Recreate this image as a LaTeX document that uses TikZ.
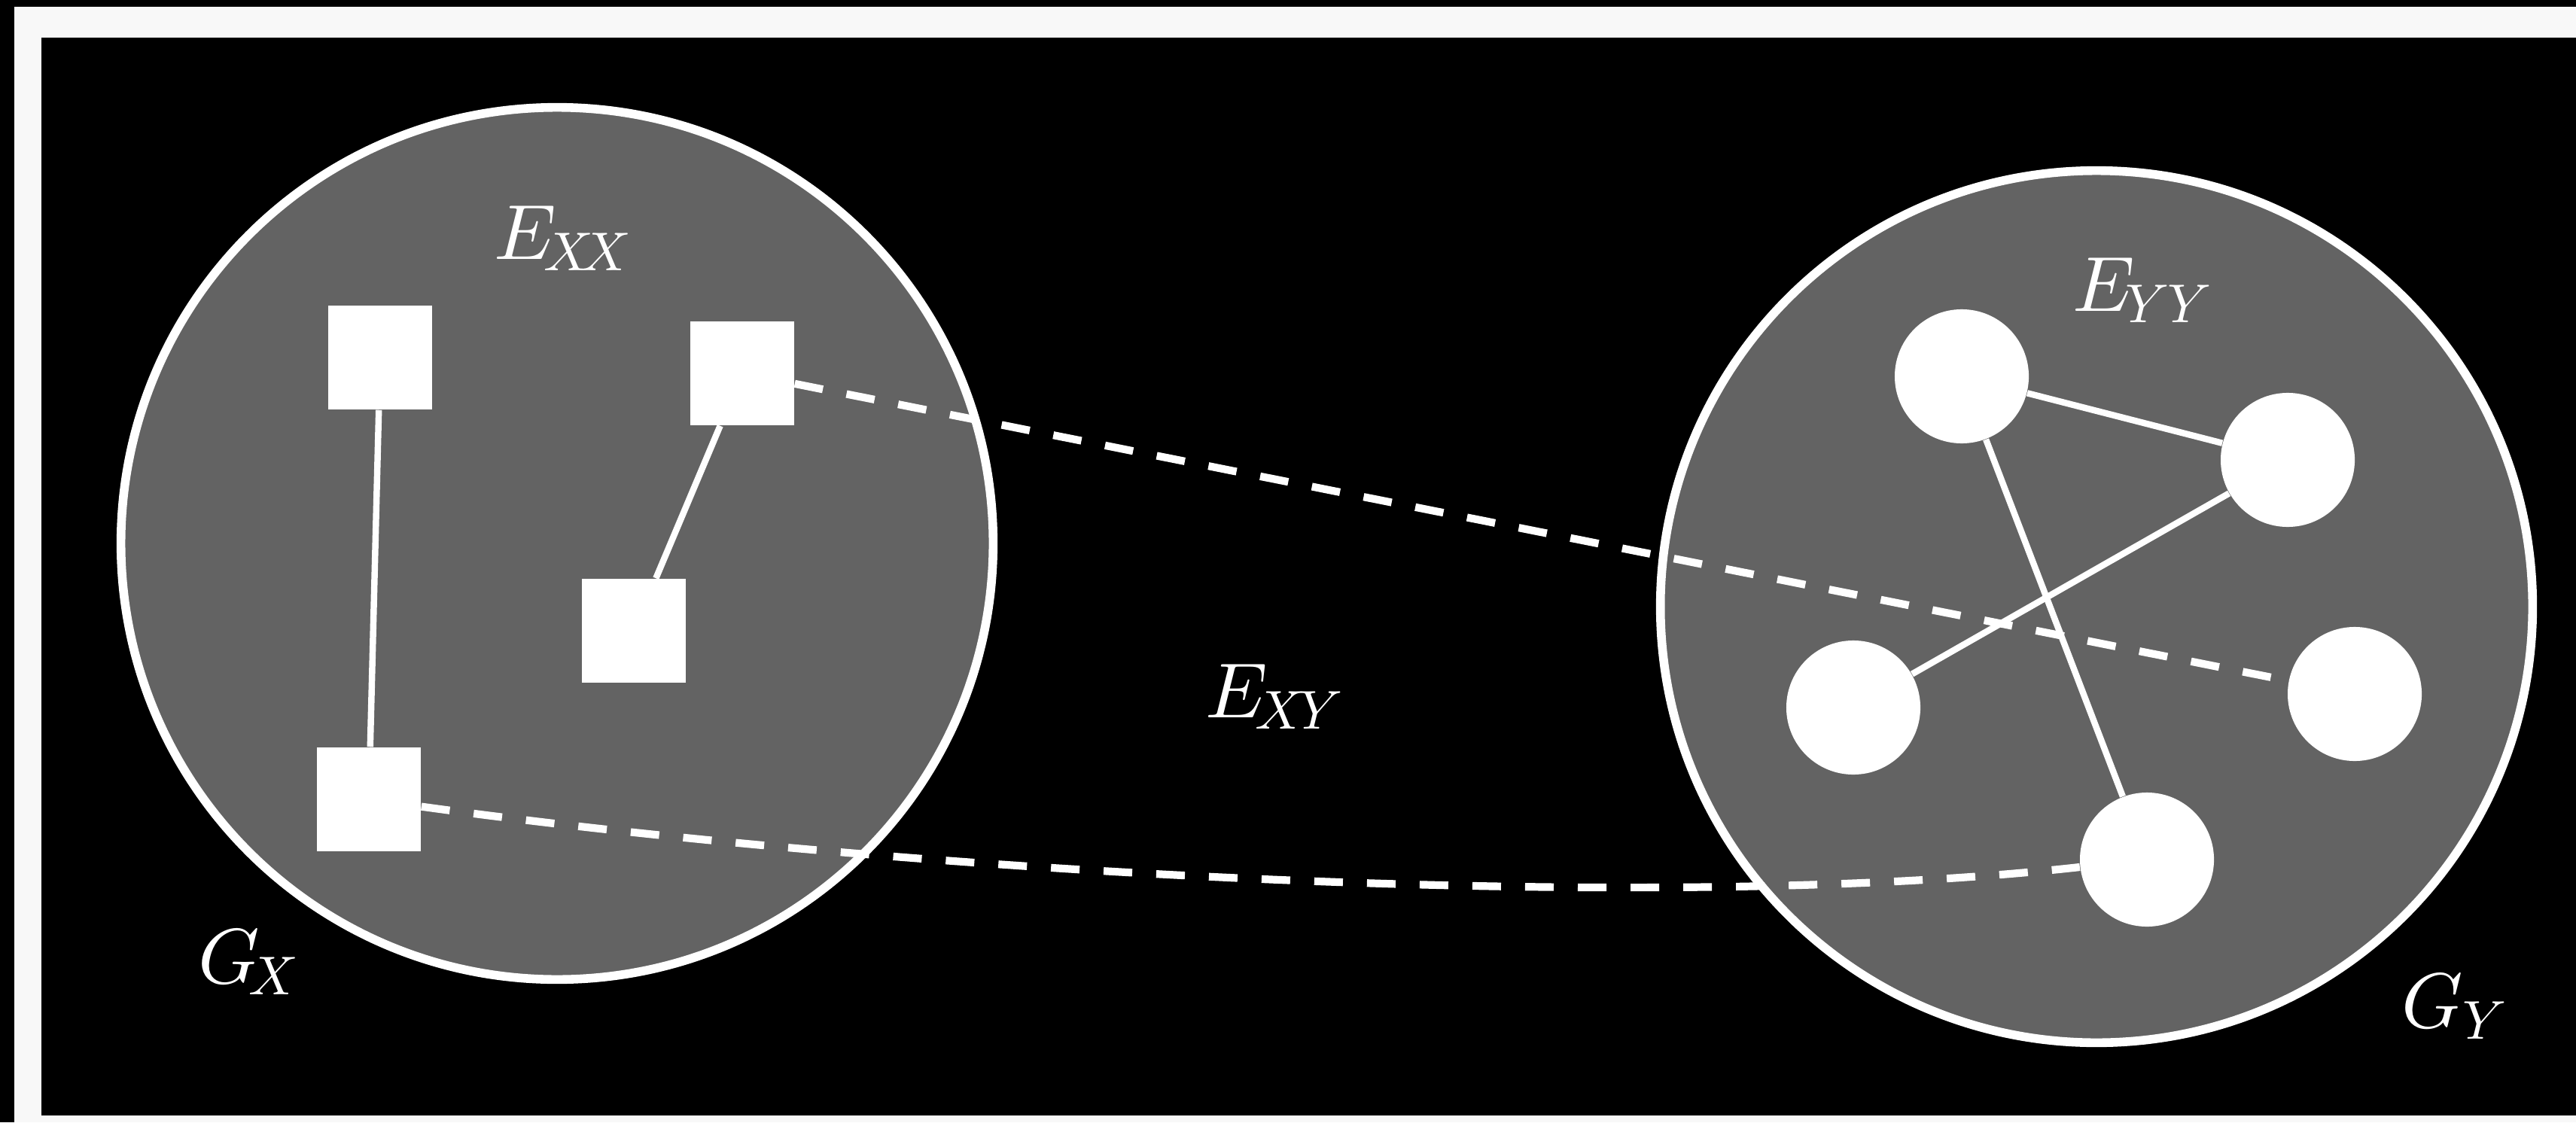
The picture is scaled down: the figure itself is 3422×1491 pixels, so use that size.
\documentclass[tikz,border=0pt]{standalone}
\definecolor{gcirc}{RGB}{99,99,99}
\definecolor{framew}{RGB}{248,248,248}
\newcommand{\sbx}[1]{\scalebox{0.7}{$#1$}}
\begin{document}
\begin{tikzpicture}[x=0.01cm,y=-0.01cm,
  graphdisk/.style={circle, draw=white, fill=gcirc, line width=3.3pt, minimum size=11.58cm, inner sep=0pt},
  sq/.style={rectangle, fill=white, minimum size=1.38cm, inner sep=0pt},
  dot/.style={circle, fill=white, minimum size=1.78cm, inner sep=0pt},
  edgeline/.style={white, line width=2.4pt},
  link/.style={white, line width=2.9pt, dash pattern=on 0.38cm off 0.32cm},
  lab/.style={text=white, inner sep=0pt, anchor=base west, font=\normalsize, scale=2.95}]
\useasboundingbox (0,0) rectangle (3422,1491);
\fill[black] (0,0) rectangle (3422,1491);
\fill[framew] (19,9) rectangle (3422,1491);
\fill[black] (55,50) rectangle (3422,1482);

% graph disks
\node[graphdisk] (gx) at (740,722) {};
\node[graphdisk] (gy) at (2785,806) {};

% square nodes
\node[sq] (s1) at (505,475) {};
\node[sq] (s2) at (986,496) {};
\node[sq] (s3) at (842,838) {};
\node[sq] (s4) at (490,1062) {};

% circle nodes
\node[dot] (c1) at (2606,500) {};
\node[dot] (c2) at (3039,611) {};
\node[dot] (c3) at (2462,940) {};
\node[dot] (c4) at (3128,922) {};
\node[dot] (c5) at (2852,1142) {};

% solid edges
\draw[edgeline] (s1) -- (s4);
\draw[edgeline] (s2) -- (s3);
\draw[edgeline] (c1) -- (c2);
\draw[edgeline] (c1) -- (c5);
\draw[edgeline] (c2) -- (c3);

% dashed cross edges
\draw[link] (s2) -- (c4);
\draw[link] (s4) .. controls (1200,1160) and (2200,1215) .. (c5);

% labels
\node[lab] (exx) at (654,344) {$E_{\sbx{\mkern-2.5mu X\mkern-4mu X}}$};
\node[lab] (eyy) at (2751,413) {$E_{\sbx{\mkern-1.5mu Y\mkern-0.5mu Y}}$};
\node[lab] (exy) at (1599,953) {$E_{\sbx{\mkern-2.5mu X\mkern-2mu Y}}$};
\node[lab] (lgx) at (261,1306) {$G_{\sbx{\mkern-3.5mu X}}$};
\node[lab] (lgy) at (3188,1365) {$G_{\sbx{Y}}$};
\end{tikzpicture}
\end{document}
